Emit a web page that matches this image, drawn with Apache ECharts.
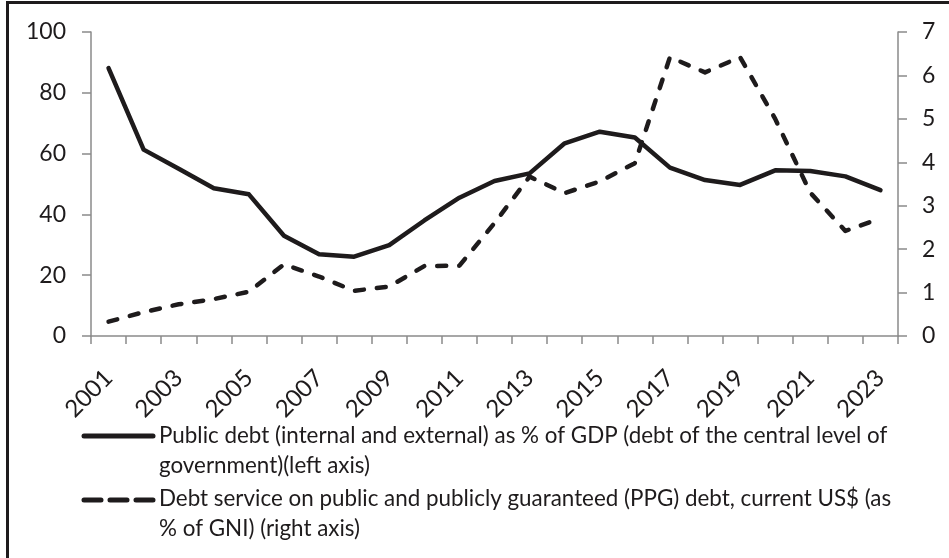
<!DOCTYPE html>
<html>
<head>
<meta charset="utf-8">
<script src="https://cdn.jsdelivr.net/npm/echarts@6/dist/echarts.min.js"></script>
<style>
  html, body { margin: 0; padding: 0; background: #fff; }
  #chart { width: 949px; height: 558px; }
</style>
</head>
<body>
<div id="chart"></div>
<script>
// Years on the horizontal axis
const years = ['2001','2002','2003','2004','2005','2006','2007','2008','2009','2010','2011','2012',
               '2013','2014','2015','2016','2017','2018','2019','2020','2021','2022','2023'];

// Public debt (internal and external), % of GDP — left axis
const publicDebt = [88.1, 61.3, 55.0, 48.6, 46.6, 33.0, 26.9, 26.1, 29.9, 38.0, 45.5, 51.0,
                    53.5, 63.4, 67.2, 65.3, 55.4, 51.3, 49.7, 54.5, 54.3, 52.5, 48.0];

// Debt service on PPG debt, % of GNI — right axis
const debtService = [0.33, 0.55, 0.73, 0.85, 1.02, 1.65, 1.37, 1.04, 1.14, 1.61, 1.62, 2.6,
                     3.67, 3.29, 3.56, 3.98, 6.42, 6.07, 6.42, 5.0, 3.3, 2.42, 2.71];

// Axis tick values
const leftTicks = { min: 0, max: 100, interval: 20 };
const rightTicks = { min: 0, max: 7, interval: 1 };

// Legend wording
const legendSolid = ['Public debt (internal and external) as % of GDP (debt of the central level of',
                     'government)(left axis)'];
const legendDashed = ['Debt service on public and publicly guaranteed (PPG) debt, current US$ (as',
                      '% of GNI) (right axis)'];

const FONT = 'Lato';
const INK = '#1e1b1c';
const AXIS = '#8a8a8a';

const chart = echarts.init(document.getElementById('chart'), null, { renderer: 'canvas' });

const axisLabelStyle = { color: INK, fontFamily: FONT, fontSize: 23 };

chart.setOption({
  animation: false,
  backgroundColor: '#ffffff',
  grid: { left: 91, right: 51, top: 32, height: 304, containLabel: false },
  xAxis: {
    type: 'category',
    data: years,
    boundaryGap: true,
    axisLine: { lineStyle: { color: AXIS, width: 1.5 } },
    axisTick: { show: true, interval: 0, length: 8, lineStyle: { color: AXIS, width: 1.5 } },
    axisLabel: Object.assign({}, axisLabelStyle, { interval: 1, rotate: 45, margin: 38, fontSize: 24 }),
    splitLine: { show: false }
  },
  yAxis: [
    {
      type: 'value',
      position: 'left',
      min: leftTicks.min, max: leftTicks.max, interval: leftTicks.interval,
      axisLine: { show: true, lineStyle: { color: AXIS, width: 1.5 } },
      axisTick: { show: true, length: 9, lineStyle: { color: AXIS, width: 1.5 } },
      axisLabel: Object.assign({ margin: 25 }, axisLabelStyle),
      splitLine: { show: false }
    },
    {
      type: 'value',
      position: 'right',
      min: rightTicks.min, max: rightTicks.max, interval: rightTicks.interval,
      axisLine: { show: true, lineStyle: { color: AXIS, width: 1.5 } },
      axisTick: { show: true, length: 9, lineStyle: { color: AXIS, width: 1.5 } },
      axisLabel: Object.assign({ margin: 24 }, axisLabelStyle),
      splitLine: { show: false }
    }
  ],
  series: [
    {
      name: 'Public debt',
      type: 'line',
      yAxisIndex: 0,
      data: publicDebt,
      symbol: 'none',
      lineStyle: { color: INK, width: 4.5, cap: 'round', join: 'round' },
      z: 3
    },
    {
      name: 'Debt service',
      type: 'line',
      yAxisIndex: 1,
      data: debtService,
      symbol: 'none',
      lineStyle: { color: INK, width: 4.5, type: [9, 13], cap: 'round', join: 'round' },
      z: 2
    }
  ],
  graphic: [
    // outer frame (left and top edges)
    {
      type: 'polyline', silent: true,
      shape: { points: [[7.5, 558], [7.5, 2.5], [949, 2.5]] },
      style: { stroke: INK, lineWidth: 3, fill: null }
    },
    // legend: solid series
    {
      type: 'line', silent: true,
      shape: { x1: 84, y1: 436, x2: 153, y2: 436 },
      style: { stroke: INK, lineWidth: 5, lineCap: 'round' }
    },
    {
      type: 'text', silent: true, left: 159, top: 421,
      style: { text: legendSolid.join('\n'), fill: INK, font: '22.4px ' + FONT, lineHeight: 30 }
    },
    // legend: dashed series
    {
      type: 'line', silent: true,
      shape: { x1: 84, y1: 500, x2: 153, y2: 500 },
      style: { stroke: INK, lineWidth: 5, lineCap: 'round', lineDash: [17, 9] }
    },
    {
      type: 'text', silent: true, left: 159, top: 484,
      style: { text: legendDashed.join('\n'), fill: INK, font: '22.4px ' + FONT, lineHeight: 30 }
    }
  ]
});
</script>
</body>
</html>
